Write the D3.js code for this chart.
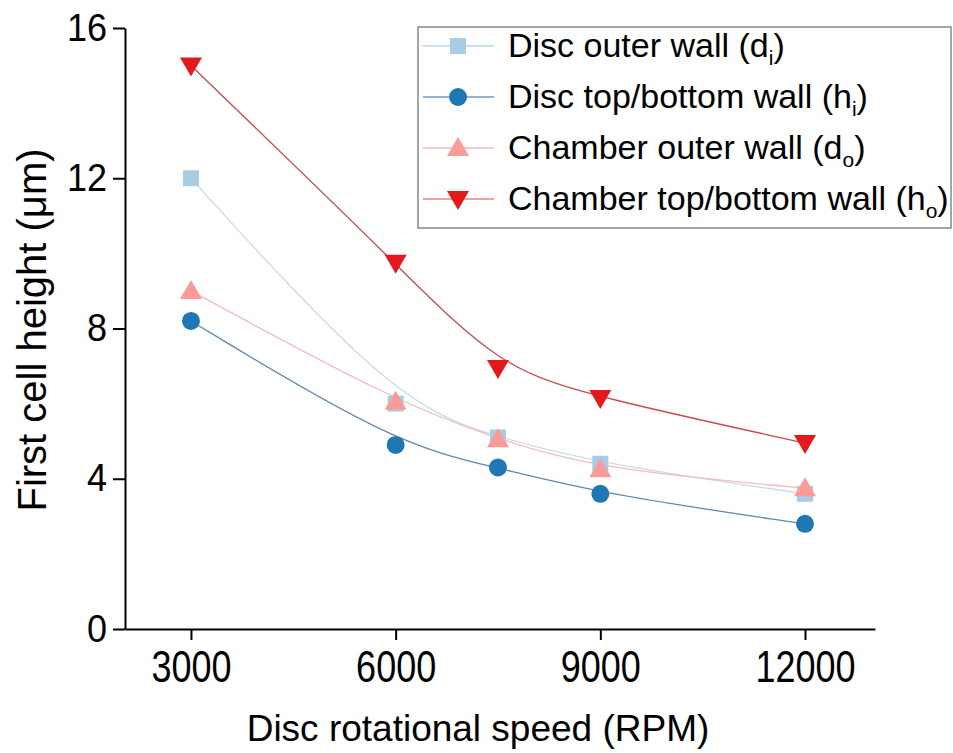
<!DOCTYPE html>
<html>
<head>
<meta charset="utf-8">
<script src="https://cdn.jsdelivr.net/npm/d3@7"></script>
<style>
  body { margin: 0; background: #fff; }
  svg text { font-family: Arial, "Liberation Sans", sans-serif; fill: #000; }
</style>
</head>
<body>
<svg id="chart" width="953" height="753"></svg>
<script>
const speeds = [3000, 6000, 7500, 9000, 12000];
const xTicks = [3000, 6000, 9000, 12000];
const yTicks = [0, 4, 8, 12, 16];
const discOuter = [12.0, 6.0, 5.1, 4.4, 3.6];
const discTopBottom = [8.2, 4.9, 4.3, 3.6, 2.8];
const chamberOuter = [9.0, 6.05, 5.05, 4.25, 3.75];
const chamberTopBottom = [15.0, 9.75, 6.95, 6.15, 4.95];

const seriesNames = ["Disc outer wall (d", "Disc top/bottom wall (h", "Chamber outer wall (d", "Chamber top/bottom wall (h"];
const seriesSubs = ["i", "i", "o", "o"];

const series = [
  {name: seriesNames[0], sub: seriesSubs[0], values: discOuter, marker: "square", fill: "#a6cee3", line: "#c8dce6", legLine: "#b9d7e6"},
  {name: seriesNames[1], sub: seriesSubs[1], values: discTopBottom, marker: "circle", fill: "#1f78b4", line: "#6089b0", legLine: "#6a9cc4"},
  {name: seriesNames[2], sub: seriesSubs[2], values: chamberOuter, marker: "up", fill: "#fb9a99", line: "#f2bcbc", legLine: "#f7b4b4"},
  {name: seriesNames[3], sub: seriesSubs[3], values: chamberTopBottom, marker: "down", fill: "#e31a1c", line: "#c94a50", legLine: "#ef7f86"}
];

const svg = d3.select("#chart");
const mLeft = 125, mRight = 875, mTop = 28, mBottom = 629;
const x = d3.scaleLinear().domain([2033, 13026]).range([mLeft, mRight]);
const y = d3.scaleLinear().domain([0, 16]).range([mBottom, mTop]);

// axes
const xAxis = svg.append("g").attr("transform", `translate(0,${mBottom})`)
  .call(d3.axisBottom(x).tickValues(xTicks).tickSize(11).tickSizeOuter(0).tickPadding(8).tickFormat(d3.format("d")));
const yAxis = svg.append("g").attr("transform", `translate(${mLeft},0)`)
  .call(d3.axisLeft(y).tickValues(yTicks).tickSize(12).tickSizeOuter(0).tickPadding(6));
[xAxis, yAxis].forEach(a => {
  a.select(".domain").attr("stroke", "#000").attr("stroke-width", 2);
  a.selectAll(".tick line").attr("stroke", "#000").attr("stroke-width", 2);
  a.selectAll(".tick text").attr("font-size", 36).attr("fill", "#000")
    .style("font-family", "Arial, 'Liberation Sans', sans-serif");
});
xAxis.selectAll(".tick text").attr("y", 43.4).attr("dy", 0).attr("transform", "scale(1,1.22)");
yAxis.selectAll(".tick text").attr("transform", "scale(1,1.06)");

svg.append("text").attr("x", 478).attr("y", 741)
  .attr("text-anchor", "middle").attr("font-size", 37).text("Disc rotational speed (RPM)");
svg.append("text").attr("transform", `translate(46,330) rotate(-90)`)
  .attr("text-anchor", "middle").attr("font-size", 40).text("First cell height (μm)");

// markers
function drawMarker(g, type, cx, cy, fill) {
  if (type === "square") {
    g.append("rect").attr("x", cx - 8).attr("y", cy - 8).attr("width", 16).attr("height", 16).attr("fill", fill);
  } else if (type === "circle") {
    g.append("circle").attr("cx", cx).attr("cy", cy).attr("r", 9).attr("fill", fill);
  } else if (type === "up") {
    g.append("path").attr("d", `M${cx},${cy - 11}L${cx + 11},${cy + 8}L${cx - 11},${cy + 8}Z`).attr("fill", fill);
  } else {
    g.append("path").attr("d", `M${cx - 11},${cy - 8}L${cx + 11},${cy - 8}L${cx},${cy + 11}Z`).attr("fill", fill);
  }
}

const line = d3.line().x(d => x(d[0])).y(d => y(d[1])).curve(d3.curveBasis);
const plot = svg.append("g");
series.forEach(s => {
  const pts = speeds.map((v, i) => [v, s.values[i]]);
  plot.append("path").attr("d", line(pts)).attr("fill", "none")
    .attr("stroke", s.line).attr("stroke-width", 1.3);
});
series.forEach(s => {
  const g = plot.append("g");
  speeds.forEach((v, i) => drawMarker(g, s.marker, x(v), y(s.values[i]), s.fill));
});

// legend
const leg = svg.append("g");
leg.append("rect").attr("x", 418).attr("y", 27).attr("width", 533).attr("height", 201)
  .attr("fill", "#fff").attr("stroke", "#888").attr("stroke-width", 1.5);
const rowY = [46, 97, 148, 199];
series.forEach((s, i) => {
  const cy = rowY[i];
  leg.append("line").attr("x1", 423).attr("x2", 494).attr("y1", cy).attr("y2", cy)
    .attr("stroke", s.legLine).attr("stroke-width", 1.3);
  drawMarker(leg, s.marker, 458, cy, s.fill);
  const t = leg.append("text").attr("x", 508).attr("y", cy + 11).attr("font-size", 34);
  t.append("tspan").text(s.name);
  t.append("tspan").attr("font-size", 21).attr("dy", 8).text(s.sub);
  t.append("tspan").attr("dy", -8).text(")");
});
</script>
</body>
</html>
